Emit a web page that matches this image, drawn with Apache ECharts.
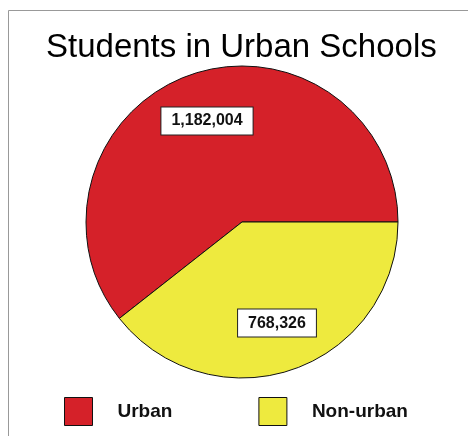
<!DOCTYPE html>
<html>
<head>
<meta charset="utf-8">
<script src="https://cdn.jsdelivr.net/npm/echarts@6/dist/echarts.min.js"></script>
<style>
  html, body { margin: 0; padding: 0; background: #fff; }
  #chart { width: 468px; height: 436px; }
</style>
</head>
<body>
<div id="chart"></div>
<script>
// Student counts by school location
const categories = ['Urban', 'Non-urban'];
const students = [1182004, 768326];
const colors = ['#D52129', '#EEEA3E'];

const fmt = v => v.toLocaleString('en-US');
const pieData = categories.map((name, i) => ({
  name: name,
  value: students[i],
  itemStyle: { color: colors[i] }
}));

const chart = echarts.init(document.getElementById('chart'), null, { renderer: 'canvas' });
const FONT = '"Liberation Sans", Arial, sans-serif';

chart.setOption({
  animation: false,
  backgroundColor: '#ffffff',
  title: {
    text: 'Students in Urban Schools',
    left: 46,
    top: 31,
    padding: 0,
    textStyle: { fontFamily: FONT, fontSize: 33, fontWeight: 'normal', color: '#000' }
  },
  legend: {
    data: categories,
    left: 64,
    top: 397,
    padding: 0,
    itemWidth: 28,
    itemHeight: 28,
    itemGap: 86,
    icon: 'rect',
    selectedMode: false,
    itemStyle: { borderColor: '#111', borderWidth: 1 },
    textStyle: {
      fontFamily: FONT, fontSize: 19, fontWeight: 'bold', color: '#111',
      padding: [0, 0, 0, 20]
    }
  },
  graphic: [
    { type: 'line', shape: { x1: 8.5, y1: 10.5, x2: 468, y2: 10.5 }, style: { stroke: '#999', lineWidth: 1 } },
    { type: 'line', shape: { x1: 8.5, y1: 10.5, x2: 8.5, y2: 436 }, style: { stroke: '#999', lineWidth: 1 } }
  ],
  series: [
    {
      // the pie itself
      type: 'pie',
      center: [242, 222],
      radius: 156,
      startAngle: 0,
      clockwise: false,
      silent: true,
      label: { show: false },
      labelLine: { show: false },
      itemStyle: { borderColor: '#111', borderWidth: 1 },
      data: pieData
    },
    {
      // value boxes, placed at about two thirds of the radius
      type: 'pie',
      center: [242, 222],
      radius: [52, 156],
      startAngle: 0,
      clockwise: false,
      silent: true,
      itemStyle: { color: 'rgba(0,0,0,0)', borderWidth: 0 },
      labelLine: { show: false },
      label: {
        show: true,
        position: 'inside',
        formatter: p => fmt(p.value),
        fontFamily: FONT,
        fontSize: 16,
        fontWeight: 'bold',
        color: '#111',
        backgroundColor: '#fff',
        borderColor: '#222',
        borderWidth: 1,
        padding: [6, 10, 5, 10]
      },
      data: pieData.map(d => ({ name: d.name, value: d.value }))
    }
  ]
});
</script>
</body>
</html>
